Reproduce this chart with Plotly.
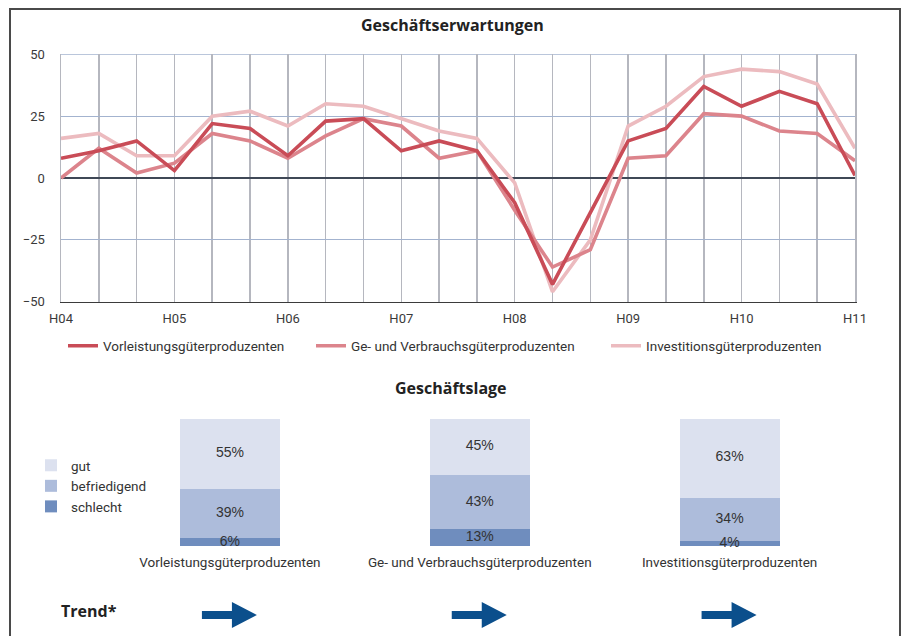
import plotly.graph_objects as go

# ---------------- data ----------------
periods = ["H04", "", "", "H05", "", "", "H06", "", "", "H07", "", "",
           "H08", "", "", "H09", "", "", "H10", "", "", "H11"]
vorleistung = [8, 11, 15, 3, 22, 20, 9, 23, 24, 11, 15, 11, -10, -43, -14, 15, 20, 37, 29, 35, 30, 1]
verbrauch = [0, 12, 2, 6, 18, 15, 8, 17, 24, 21, 8, 11, -13, -36, -29, 8, 9, 26, 25, 19, 18, 7]
investition = [16, 18, 9, 9, 25, 27, 21, 30, 29, 24, 19, 16, -2, -46, -25, 21, 29, 41, 44, 43, 38, 12]
y_ticks = [-50, -25, 0, 25, 50]

sectors = ["Vorleistungsgüterproduzenten", "Ge- und Verbrauchsgüterproduzenten",
           "Investitionsgüterproduzenten"]
lage_schlecht = [6, 13, 4]
lage_befriedigend = [39, 43, 34]
lage_gut = [55, 45, 63]
trend = ["→", "→", "→"]

# ---------------- styling ----------------
W, H = 904, 636
def px_x(p):
    return p / W
def px_y(p):
    return 1 - p / H

FONT = "Roboto, 'Open Sans', sans-serif"
TFONT = "'Open Sans', Roboto, sans-serif"
TXT = "#333333"
c_dark, c_med, c_light = "#c94c57", "#dc848c", "#ecbbbf"
c_gut, c_bef, c_sch = "#dce1ef", "#adbcdb", "#6f8dbe"

xi = list(range(len(periods)))
fig = go.Figure()

# lines (light first so dark sits on top); each in its own legend box
fig.add_trace(go.Scatter(x=xi, y=investition, mode="lines", name=sectors[2],
                         line=dict(color=c_light, width=3.6), legend="legend4"))
fig.add_trace(go.Scatter(x=xi, y=verbrauch, mode="lines", name=sectors[1],
                         line=dict(color=c_med, width=3.6), legend="legend3"))
fig.add_trace(go.Scatter(x=xi, y=vorleistung, mode="lines", name=sectors[0],
                         line=dict(color=c_dark, width=3.6), legend="legend"))

# stacked bars
stack = [(lage_schlecht, "schlecht", c_sch),
         (lage_befriedigend, "befriedigend", c_bef),
         (lage_gut, "gut", c_gut)]
for vals, name, col in stack:
    fig.add_trace(go.Bar(x=sectors, y=vals, name=name, marker=dict(color=col, line=dict(width=0)),
                         width=0.4, xaxis="x2", yaxis="y2", legend="legend2", hoverinfo="skip"))

# percentage labels at the middle of each stacked segment
lab_x, lab_y, lab_t = [], [], []
base = [0] * len(sectors)
for vals, name, col in stack:
    for i, v in enumerate(vals):
        lab_x.append(sectors[i])
        lab_y.append(base[i] + v / 2)
        lab_t.append(f"{v}%")
        base[i] += v
fig.add_trace(go.Scatter(x=lab_x, y=lab_y, text=lab_t, mode="text", xaxis="x2", yaxis="y2",
                         textposition="middle center", cliponaxis=False, showlegend=False,
                         hoverinfo="skip",
                         textfont=dict(family="Liberation Sans, Arial, sans-serif", size=14,
                                       color=TXT)))

shapes = [
    dict(type="rect", xref="paper", yref="paper",
         x0=px_x(10), x1=px_x(900), y0=px_y(645), y1=px_y(9),
         line=dict(color="#4a4a4a", width=2), fillcolor="rgba(0,0,0,0)", layer="above"),
    # top grid line at the upper end of the value axis
    dict(type="line", xref="x domain", x0=0, x1=1, yref="y", y0=max(y_ticks), y1=max(y_ticks),
         line=dict(color="#a3b3cf", width=1.5), layer="below"),
]
# trend arrows, anchored on each sector's category position
arrow_path = "M-28,-4 L2,-4 L2,-13 L27,0 L2,13 L2,4 L-28,4 Z"
for s, t in zip(sectors, trend):
    shapes.append(dict(type="path", xref="x2", yref="paper", xsizemode="pixel", ysizemode="pixel",
                       xanchor=s, yanchor=px_y(615), path=arrow_path,
                       fillcolor="#0b4f8c", line=dict(width=0)))

annotations = [
    dict(text="<b>Geschäftserwartungen</b>", x=px_x(452), y=px_y(25), xref="paper", yref="paper",
         yanchor="middle", showarrow=False, font=dict(family=TFONT, size=16, color="#222")),
    dict(text="<b>Geschäftslage</b>", x=px_x(451), y=px_y(388), xref="paper", yref="paper",
         yanchor="middle", showarrow=False, font=dict(family=TFONT, size=16, color="#222")),
    dict(text="<b>Trend*</b>", x=px_x(59), y=px_y(611), xref="paper", yref="paper",
         xanchor="left", yanchor="middle", showarrow=False,
         font=dict(family=TFONT, size=16, color="#222")),
]

leg_common = dict(orientation="h", yanchor="middle", y=px_y(346),
                  font=dict(size=13.5, color=TXT), bgcolor="rgba(0,0,0,0)", borderwidth=0,
                  xanchor="left")

fig.update_layout(
    template="none",
    width=W, height=H, margin=dict(l=0, r=0, t=0, b=0, autoexpand=False),
    paper_bgcolor="white", plot_bgcolor="white",
    font=dict(family=FONT, size=13, color=TXT),
    barmode="stack", showlegend=True, hovermode=False,
    xaxis=dict(domain=[px_x(61), px_x(855)], range=[0, 21], tickvals=xi, ticktext=periods,
               automargin=False,
               showgrid=True, gridcolor="#b5b7bf", gridwidth=1.5, zeroline=False,
               showline=True, linecolor="#3b3b3b", linewidth=1.5, ticks="",
               ticklabelstandoff=4, tickfont=dict(size=13, color="#3a3a3a"), fixedrange=True),
    yaxis=dict(domain=[px_y(301.7), px_y(54.3)], range=[-50, 50], tickvals=y_ticks,
               automargin=False,
               showgrid=True, gridcolor="#a3b3cf", gridwidth=1.2,
               showline=True, linecolor="#b5b7bf", linewidth=1.5, mirror=True,
               zeroline=True, zerolinecolor="#3f4856", zerolinewidth=2,
               ticks="", ticklabelstandoff=12, tickfont=dict(size=13, color="#3a3a3a")),
    xaxis2=dict(domain=[px_x(105), px_x(854.5)], anchor="y2", type="category", automargin=False,
                range=[-0.5, 2.5], showgrid=False, zeroline=False, showline=False, ticks="",
                ticklabelstandoff=6, tickfont=dict(size=13.5, color=TXT)),
    yaxis2=dict(domain=[px_y(546), px_y(419)], anchor="x2", range=[0, 100], visible=False,
                automargin=False),
    legend=dict(x=px_x(63), **leg_common),
    legend3=dict(x=px_x(311), **leg_common),
    legend4=dict(x=px_x(606), **leg_common),
    legend2=dict(orientation="v", x=px_x(31), xanchor="left", y=px_y(486), yanchor="middle",
                 traceorder="reversed", font=dict(size=13.5, color=TXT), bgcolor="rgba(0,0,0,0)",
                 borderwidth=0),
    shapes=shapes, annotations=annotations,
)

fig.write_html("out.html", config={"displayModeBar": False, "staticPlot": True},
               post_script="document.body.style.margin='0';document.body.style.overflow='hidden';")
